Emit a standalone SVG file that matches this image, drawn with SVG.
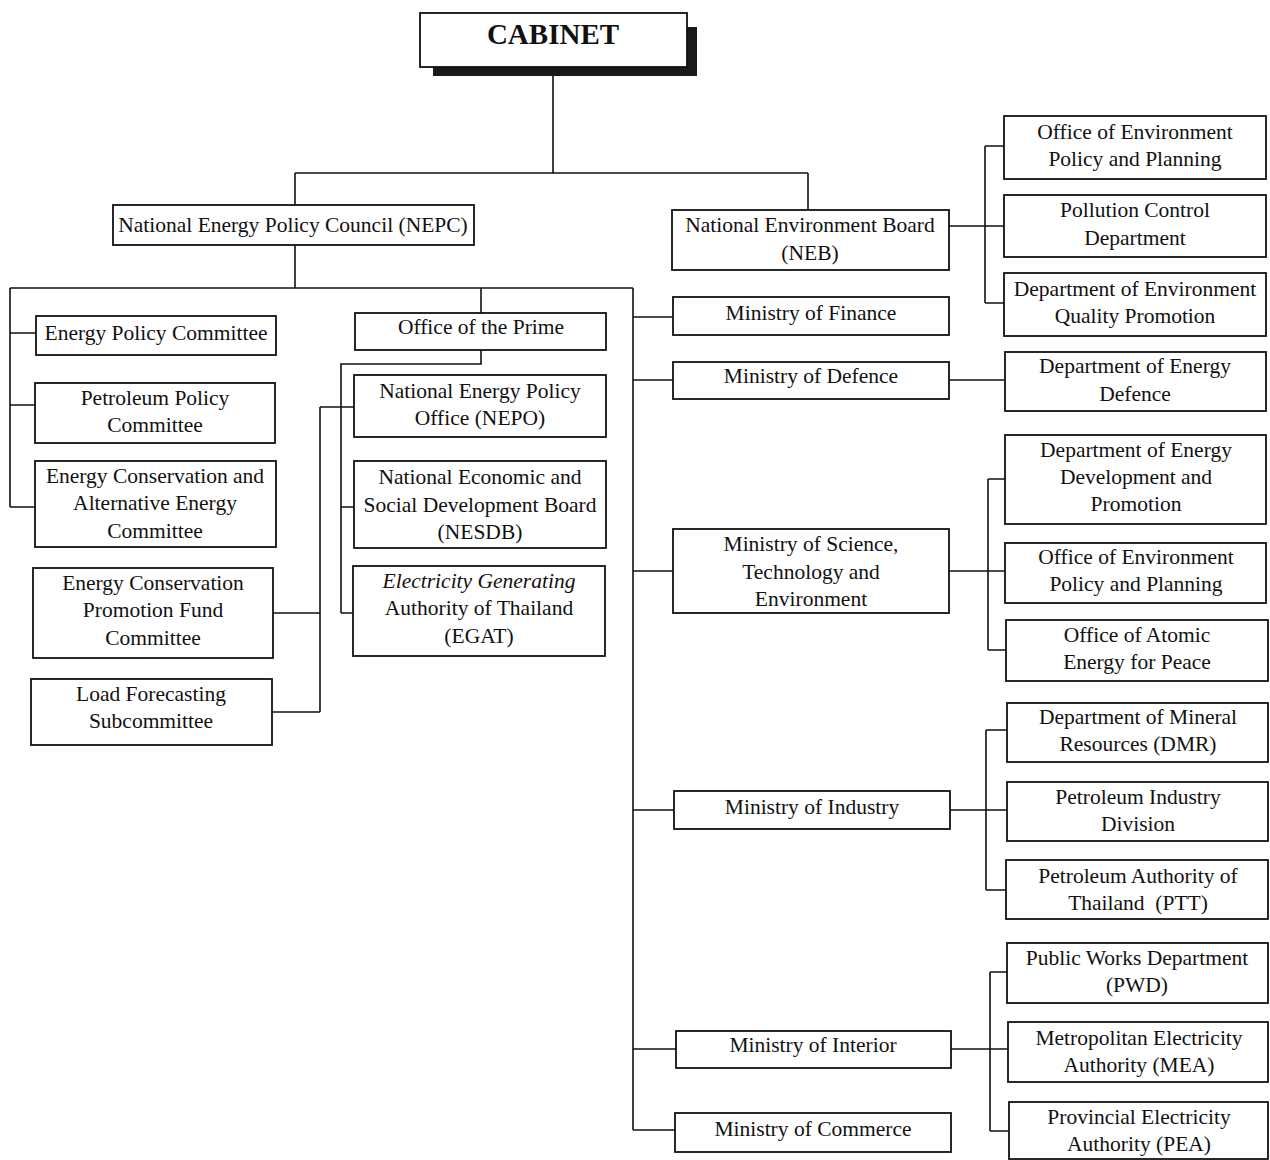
<svg xmlns="http://www.w3.org/2000/svg" width="1270" height="1160" viewBox="0 0 1270 1160">
<style>
.b{fill:#fff;stroke:#111;stroke-width:1.8}
.t{font-family:"Liberation Serif","Times New Roman",serif;font-size:21.5px;fill:#111;text-anchor:middle}
.i{font-style:italic}
.c{fill:none;stroke:#111;stroke-width:1.6}
</style>
<rect width="1270" height="1160" fill="#fff"/>
<g id="connectors">
<path class="c" d="M553 76V173M295 173H808M295 173V205M808 173V210"/>
<path class="c" d="M295 245V288M10 288H633M10 288V507M10 333H36M10 405H35M10 507H35"/>
<path class="c" d="M481 288V313M481 350V364H341V613M341 507H354M341 613H353"/>
<path class="c" d="M320 407H354M320 407V712M273 613H320M272 712H320"/>
<path class="c" d="M633 288V1130M633 317H673M633 380H673M633 571H673M633 810H674M633 1049H676M633 1130H675"/>
<path class="c" d="M949 226H1004M985 146V303M985 146H1004M985 303H1004"/>
<path class="c" d="M949 380H1005"/>
<path class="c" d="M949 571H1005M988 479V650M988 479H1005M988 650H1006"/>
<path class="c" d="M950 810H1007M986 730V890M986 730H1007M986 890H1006"/>
<path class="c" d="M951 1049H1008M990 972V1131M990 972H1007M990 1131H1009"/>
</g>
<g id="cabinet">
<rect x="433" y="27" width="264" height="49" fill="#1a1a1a"/>
<rect class="b" x="420" y="13" width="267" height="54"/>
<text x="553" y="44" style="font-family:'Liberation Serif','Times New Roman',serif;font-size:29px;font-weight:bold;fill:#111;text-anchor:middle">CABINET</text>
</g>
<g id="nepc"><rect class="b" x="113" y="205" width="361" height="40"/><text class="t" x="293" y="232">National Energy Policy Council (NEPC)</text></g>
<g id="neb"><rect class="b" x="672" y="210" width="277" height="60"/><text class="t" x="810" y="232">National Environment Board</text><text class="t" x="810" y="260">(NEB)</text></g>
<g id="epc"><rect class="b" x="36" y="316" width="240" height="39"/><text class="t" x="156" y="340">Energy Policy Committee</text></g>
<g id="ppc"><rect class="b" x="35" y="383" width="240" height="60"/><text class="t" x="155" y="405">Petroleum Policy</text><text class="t" x="155" y="432">Committee</text></g>
<g id="ecaec"><rect class="b" x="35" y="461" width="241" height="86"/><text class="t" x="155" y="483">Energy Conservation and</text><text class="t" x="155" y="510">Alternative Energy</text><text class="t" x="155" y="538">Committee</text></g>
<g id="ecpfc"><rect class="b" x="33" y="568" width="240" height="90"/><text class="t" x="153" y="590">Energy Conservation</text><text class="t" x="153" y="617">Promotion Fund</text><text class="t" x="153" y="645">Committee</text></g>
<g id="lfs"><rect class="b" x="31" y="679" width="241" height="66"/><text class="t" x="151" y="701">Load Forecasting</text><text class="t" x="151" y="728">Subcommittee</text></g>
<g id="opm"><rect class="b" x="355" y="313" width="251" height="37"/><text class="t" x="481" y="334">Office of the Prime</text></g>
<g id="nepo"><rect class="b" x="354" y="375" width="252" height="62"/><text class="t" x="480" y="398">National Energy Policy</text><text class="t" x="480" y="425">Office (NEPO)</text></g>
<g id="nesdb"><rect class="b" x="354" y="461" width="252" height="87"/><text class="t" x="480" y="484">National Economic and</text><text class="t" x="480" y="512">Social Development Board</text><text class="t" x="480" y="539">(NESDB)</text></g>
<g id="egat"><rect class="b" x="353" y="566" width="252" height="90"/><text class="t i" x="479" y="588">Electricity Generating</text><text class="t" x="479" y="615">Authority of Thailand</text><text class="t" x="479" y="643">(EGAT)</text></g>
<g id="mof"><rect class="b" x="673" y="297" width="276" height="38"/><text class="t" x="811" y="320">Ministry of Finance</text></g>
<g id="mod"><rect class="b" x="673" y="362" width="276" height="37"/><text class="t" x="811" y="383">Ministry of Defence</text></g>
<g id="moste"><rect class="b" x="673" y="529" width="276" height="84"/><text class="t" x="811" y="551">Ministry of Science,</text><text class="t" x="811" y="579">Technology and</text><text class="t" x="811" y="606">Environment</text></g>
<g id="moi"><rect class="b" x="674" y="791" width="276" height="38"/><text class="t" x="812" y="814">Ministry of Industry</text></g>
<g id="mointerior"><rect class="b" x="676" y="1031" width="275" height="37"/><text class="t" x="813" y="1052">Ministry of Interior</text></g>
<g id="moc"><rect class="b" x="675" y="1113" width="276" height="39"/><text class="t" x="813" y="1136">Ministry of Commerce</text></g>
<g id="oepp1"><rect class="b" x="1004" y="116" width="262" height="63"/><text class="t" x="1135" y="139">Office of Environment</text><text class="t" x="1135" y="166">Policy and Planning</text></g>
<g id="pcd"><rect class="b" x="1004" y="195" width="262" height="62"/><text class="t" x="1135" y="217">Pollution Control</text><text class="t" x="1135" y="245">Department</text></g>
<g id="deqp"><rect class="b" x="1004" y="273" width="262" height="63"/><text class="t" x="1135" y="296">Department of Environment</text><text class="t" x="1135" y="323">Quality Promotion</text></g>
<g id="ded"><rect class="b" x="1005" y="352" width="261" height="59"/><text class="t" x="1135" y="373">Department of Energy</text><text class="t" x="1135" y="401">Defence</text></g>
<g id="dedp"><rect class="b" x="1005" y="435" width="261" height="89"/><text class="t" x="1136" y="457">Department of Energy</text><text class="t" x="1136" y="484">Development and</text><text class="t" x="1136" y="511">Promotion</text></g>
<g id="oepp2"><rect class="b" x="1005" y="543" width="261" height="60"/><text class="t" x="1136" y="564">Office of Environment</text><text class="t" x="1136" y="591">Policy and Planning</text></g>
<g id="oaep"><rect class="b" x="1006" y="620" width="262" height="61"/><text class="t" x="1137" y="642">Office of Atomic</text><text class="t" x="1137" y="669">Energy for Peace</text></g>
<g id="dmr"><rect class="b" x="1007" y="703" width="261" height="59"/><text class="t" x="1138" y="724">Department of Mineral</text><text class="t" x="1138" y="751">Resources (DMR)</text></g>
<g id="pid"><rect class="b" x="1007" y="782" width="261" height="59"/><text class="t" x="1138" y="804">Petroleum Industry</text><text class="t" x="1138" y="831">Division</text></g>
<g id="ptt"><rect class="b" x="1006" y="860" width="262" height="59"/><text class="t" x="1138" y="883">Petroleum Authority of</text><text class="t" x="1138" y="910" style="white-space:pre">Thailand  (PTT)</text></g>
<g id="pwd"><rect class="b" x="1007" y="943" width="261" height="60"/><text class="t" x="1137" y="965">Public Works Department</text><text class="t" x="1137" y="992">(PWD)</text></g>
<g id="mea"><rect class="b" x="1008" y="1022" width="260" height="60"/><text class="t" x="1139" y="1045">Metropolitan Electricity</text><text class="t" x="1139" y="1072">Authority (MEA)</text></g>
<g id="pea"><rect class="b" x="1009" y="1102" width="259" height="57"/><text class="t" x="1139" y="1124">Provincial Electricity</text><text class="t" x="1139" y="1151">Authority (PEA)</text></g>
</svg>
